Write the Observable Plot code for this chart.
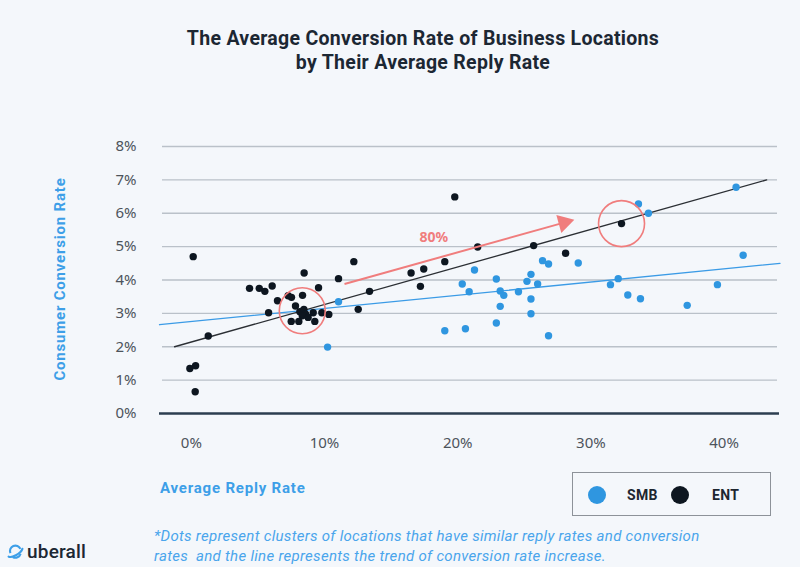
<!DOCTYPE html>
<html>
<head>
<meta charset="utf-8">
<script src="https://cdn.jsdelivr.net/npm/d3@7"></script>
<script src="https://cdn.jsdelivr.net/npm/@observablehq/plot@0.6"></script>
<style>
  html, body { margin: 0; padding: 0; }
  body { width: 800px; height: 567px; background: #f4f7fb; position: relative; overflow: hidden; font-family: Roboto, "Noto Sans", sans-serif; }
  #chart { position: absolute; left: 0; top: 0; }
  .abs { position: absolute; white-space: nowrap; }
  #title { left: 0; top: 27px; width: 846px; text-align: center; font-weight: 700; font-size: 19.5px; line-height: 24px; letter-spacing: 0.3px; color: #1c2733; }
  #ylabel { left: 60px; top: 279px; transform: translate(-50%, -50%) rotate(-90deg); font-weight: 700; font-size: 15px; letter-spacing: 0.8px; color: #3d9fe8; }
  #xlabel { left: 160px; top: 479px; font-weight: 700; font-size: 15px; letter-spacing: 0.8px; color: #3d9fe8; }
  #legend { left: 572px; top: 472px; width: 199px; height: 44px; box-sizing: border-box; border: 1.5px solid #8d9299; }
  .sw { position: absolute; width: 18px; height: 18px; border-radius: 50%; top: 12.5px; }
  .lt { position: absolute; top: 12px; font-weight: 700; font-size: 14px; line-height: 20px; letter-spacing: 0.3px; color: #1d2630; }
  #foot { left: 154px; top: 526px; font-style: italic; font-size: 15px; line-height: 20px; letter-spacing: 0.3px; color: #4aa5ec; }
  #logo { left: 7px; top: 540px; display: flex; align-items: center; gap: 3px; }
  #logo span { font-size: 19px; font-weight: 500; color: #1c2733; letter-spacing: 0.2px; }
</style>
</head>
<body>
<div id="chart"></div>
<div id="title" class="abs">The Average Conversion Rate of Business Locations<br>by Their Average Reply Rate</div>
<div id="ylabel" class="abs">Consumer Conversion Rate</div>
<div id="xlabel" class="abs">Average Reply Rate</div>
<div id="legend" class="abs"></div>
<div id="foot" class="abs">*Dots represent clusters of locations that have similar reply rates and conversion<br>rates&nbsp; and the line represents the trend of conversion rate increase.</div>
<div id="logo" class="abs">
  <svg width="17" height="17" viewBox="0 0 16 16">
    <path d="M3.2 9.5 A5 5 0 1 1 12.6 5.6" fill="none" stroke="#3d9fe8" stroke-width="2"/>
    <path d="M1.5 12.8 C4 14.5 13 10 14.5 5.5" fill="none" stroke="#3d9fe8" stroke-width="2" stroke-linecap="round"/>
    <path d="M12.8 10.2 A5 5 0 0 1 5.5 13.2" fill="none" stroke="#3d9fe8" stroke-width="2"/>
  </svg>
  <span>uberall</span>
</div>
<script>
// ---- data ----
const xTicks = [0, 10, 20, 30, 40];
const yTicks = [0, 1, 2, 3, 4, 5, 6, 7, 8];

const entX = [0.14, -0.11, 0.32, 0.29, 1.27, 4.37, 5.10, 5.52, 6.07, 6.47, 5.80, 7.27, 7.52, 8.35, 8.47, 7.82, 8.15, 8.45, 8.57, 8.33, 8.77, 9.15, 7.50, 8.07, 9.27, 9.55, 9.80, 10.32, 11.05, 12.20, 12.53, 13.38, 16.50, 17.45, 17.20, 19.03, 19.78, 21.50, 25.70, 28.10, 32.30];
const entY = [4.70, 1.35, 1.43, 0.65, 2.32, 3.75, 3.75, 3.66, 3.82, 3.38, 3.02, 3.53, 3.48, 3.54, 4.21, 3.22, 3.05, 3.12, 2.98, 2.93, 2.88, 3.02, 2.76, 2.76, 2.76, 3.77, 3.02, 2.97, 4.04, 4.55, 3.12, 3.66, 4.21, 4.33, 3.81, 4.55, 6.49, 4.99, 5.03, 4.80, 5.69];

const smbX = [10.23, 11.05, 19.03, 20.34, 20.58, 20.86, 21.26, 22.90, 22.90, 23.19, 23.19, 23.46, 24.56, 25.20, 25.50, 25.50, 25.50, 26.00, 26.37, 26.82, 26.82, 29.05, 31.47, 32.05, 32.77, 33.57, 33.72, 34.32, 37.23, 39.50, 40.90, 41.43];
const smbY = [1.99, 3.35, 2.48, 3.88, 2.54, 3.65, 4.30, 4.03, 2.71, 3.67, 3.21, 3.54, 3.65, 3.96, 4.17, 3.43, 2.99, 3.88, 4.58, 4.48, 2.33, 4.51, 3.86, 4.04, 3.55, 6.28, 3.44, 6.00, 3.24, 3.86, 6.78, 4.74];

const entTrendX = [-1.26, 43.2];
const entTrendY = [2.0, 7.0];
const smbTrendX = [-2.39, 44.2];
const smbTrendY = [2.66, 4.5];

// annotations
const arrowX = [11.5, 27.98];
const arrowY = [3.88, 5.72];
const arrowLabel = "80%";
const arrowLabelPos = [18.2, 5.28];
const circleX = [8.33, 32.3];
const circleY = [3.08, 5.69];

const seriesNames = ["SMB", "ENT"];
const seriesColors = ["#2f96e0", "#0d1620"];

// ---- build ----
const ent = entX.map((x, i) => ({x, y: entY[i]}));
const smb = smbX.map((x, i) => ({x, y: smbY[i]}));
const entTrend = entTrendX.map((x, i) => ({x, y: entTrendY[i]}));
const smbTrend = smbTrendX.map((x, i) => ({x, y: smbTrendY[i]}));
const arrowData = [{x1: arrowX[0], y1: arrowY[0], x2: arrowX[1], y2: arrowY[1]}];
const circles = circleX.map((x, i) => ({x, y: circleY[i]}));
const red = "#f07d7d";

const plot = Plot.plot({
  width: 800, height: 567,
  marginTop: 146, marginBottom: 154, marginLeft: 159, marginRight: 21,
  x: {domain: [-2.39, 44.16]},
  y: {domain: [0, 8]},
  style: {background: "transparent", fontFamily: "'Noto Sans', sans-serif", color: "#4d545c", overflow: "visible"},
  marks: [
    Plot.ruleY(yTicks.filter(d => d > 0), {stroke: "#bac1c9", strokeWidth: 1.3, insetLeft: 3, insetRight: 2}),
    Plot.ruleY([0], {stroke: "#2c3e50", strokeWidth: 2.5}),
    Plot.axisY({ticks: yTicks, tickFormat: d => d + "%", tickSize: 0, tickPadding: 23, fontSize: 15, label: null}),
    Plot.axisX({ticks: xTicks, tickFormat: d => d + "%", tickSize: 0, tickPadding: 24, fontSize: 15, label: null}),
    Plot.line(smbTrend, {x: "x", y: "y", stroke: "#3b9be6", strokeWidth: 1.3}),
    Plot.line(entTrend, {x: "x", y: "y", stroke: "#2b2f34", strokeWidth: 1.3}),
    Plot.dot(smb, {x: "x", y: "y", r: 3.7, fill: seriesColors[0]}),
    Plot.dot(ent, {x: "x", y: "y", r: 3.7, fill: seriesColors[1]}),
    Plot.link(arrowData, {x1: "x1", y1: "y1", x2: "x2", y2: "y2", stroke: red, strokeWidth: 2}),
    Plot.dot(arrowData, {x: "x2", y: "y2", symbol: "triangle", r: 6.9, fill: red, rotate: 74.4}),
    Plot.text([arrowLabel], {x: arrowLabelPos[0], y: arrowLabelPos[1], text: d => d, fill: red, fontSize: 14, fontWeight: 700}),
    Plot.dot(circles, {x: "x", y: "y", r: 23, stroke: red, strokeWidth: 1.6, fill: "none"})
  ]
});
document.getElementById("chart").appendChild(plot);

// legend
const legend = document.getElementById("legend");
const swX = [23.5, 107];
const txX = [54, 139];
seriesNames.forEach((name, i) => {
  const s = document.createElement("div");
  s.className = "sw";
  s.style.left = (swX[i] - 9) + "px";
  s.style.background = seriesColors[i];
  legend.appendChild(s);
  const t = document.createElement("div");
  t.className = "lt";
  t.style.left = txX[i] + "px";
  t.textContent = name;
  legend.appendChild(t);
});
</script>
</body>
</html>
